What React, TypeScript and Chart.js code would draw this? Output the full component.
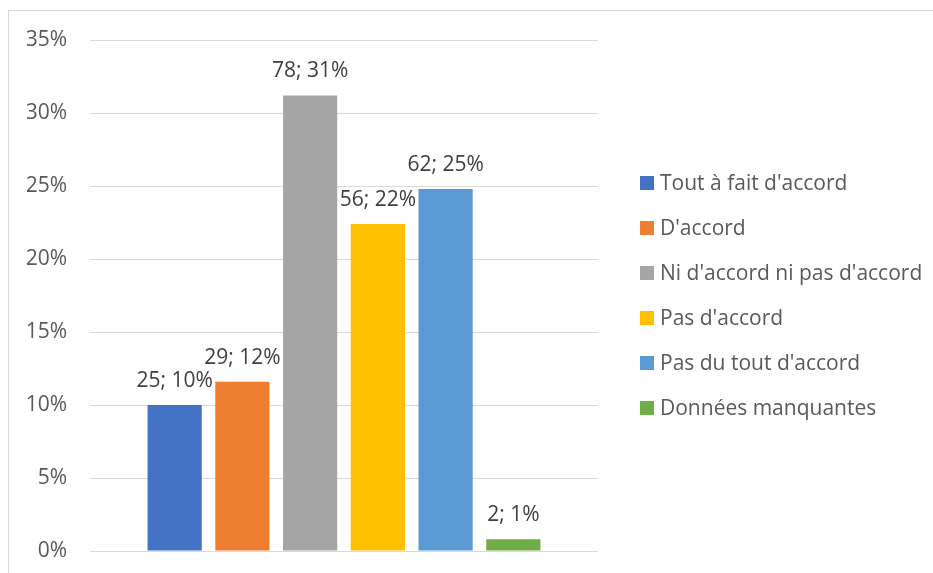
import React, { useEffect, useRef } from "react";
import { Chart, registerables } from "chart.js";

Chart.register(...registerables);

const categories = [""];
const seriesNames = [
  "Tout à fait d'accord",
  "D'accord",
  "Ni d'accord ni pas d'accord",
  "Pas d'accord",
  "Pas du tout d'accord",
  "Données manquantes",
];
const counts = [25, 29, 78, 56, 62, 2];
const percents = [10, 11.6, 31.2, 22.4, 24.8, 0.8];
const pctLabels = ["10%", "12%", "31%", "22%", "25%", "1%"];
const colors = ["#4472C4", "#ED7D31", "#A5A5A5", "#FFC000", "#5B9BD5", "#70AD47"];
const yTicks = [0, 5, 10, 15, 20, 25, 30, 35];

const FONT = "'Open Sans', sans-serif";
const FONT_SIZE = 21;

const labelPlugin = {
  id: "barLabels",
  afterDatasetsDraw(chart: any) {
    const ctx = chart.ctx;
    ctx.save();
    ctx.font = `${FONT_SIZE}px ${FONT}`;
    ctx.fillStyle = "#404040";
    ctx.textAlign = "center";
    ctx.textBaseline = "middle";
    chart.data.datasets.forEach((ds: any, i: number) => {
      const meta = chart.getDatasetMeta(i);
      meta.data.forEach((el: any) => {
        ctx.fillText(`${counts[i]}; ${pctLabels[i]}`, el.x, el.y - 24);
      });
    });
    ctx.restore();
  },
};

const legendPlugin = {
  id: "sideLegend",
  afterDraw(chart: any) {
    const ctx = chart.ctx;
    const area = chart.chartArea;
    const x0 = area.right + 42;
    const rowGap = 45;
    const yStart = 172;
    ctx.save();
    ctx.font = `${FONT_SIZE}px ${FONT}`;
    ctx.textAlign = "left";
    ctx.textBaseline = "middle";
    chart.data.datasets.forEach((ds: any, i: number) => {
      const y = yStart + i * rowGap;
      ctx.fillStyle = ds.backgroundColor;
      ctx.fillRect(x0, y - 7, 14, 14);
      ctx.fillStyle = "#595959";
      ctx.fillText(ds.label, x0 + 20, y + 1);
    });
    ctx.restore();
  },
};

export default function App() {
  const ref = useRef<HTMLCanvasElement>(null);
  useEffect(() => {
    if (!ref.current) return;
    const chart = new Chart(ref.current, {
      type: "bar",
      data: {
        labels: categories,
        datasets: seriesNames.map((name, i) => ({
          label: name,
          data: [percents[i]],
          backgroundColor: colors[i],
          borderWidth: 0,
          barPercentage: 0.8,
          categoryPercentage: 0.8,
        })),
      },
      options: {
        responsive: false,
        animation: false,
        layout: { autoPadding: false, padding: { left: 18, top: 29, bottom: 22, right: 335 } },
        plugins: {
          tooltip: { enabled: false },
          legend: { display: false },
        },
        scales: {
          x: { display: false },
          y: {
            min: 0,
            max: 35,
            afterBuildTicks: (s: any) => {
              s.ticks = yTicks.map((v) => ({ value: v }));
            },
            afterFit: (s: any) => {
              s.width = 63;
              s.paddingTop = 0;
              s.paddingBottom = 0;
            },
            ticks: {
              callback: (v: any) => `${v}%`,
              color: "#595959",
              font: { family: FONT, size: FONT_SIZE },
              padding: 23,
            },
            grid: { color: "#d9d9d9", drawTicks: false },
            border: { display: false },
          },
        },
      },
      plugins: [labelPlugin, legendPlugin],
    });
    return () => chart.destroy();
  }, []);
  return (
    <div
      style={{
        position: "fixed",
        left: 8,
        top: 10,
        width: 925,
        height: 563,
        borderTop: "1px solid #d9d9d9",
        borderLeft: "1px solid #d9d9d9",
        boxSizing: "border-box",
        background: "#fff",
      }}
    >
      <canvas ref={ref} width={924} height={562} style={{ display: "block" }} />
    </div>
  );
}
